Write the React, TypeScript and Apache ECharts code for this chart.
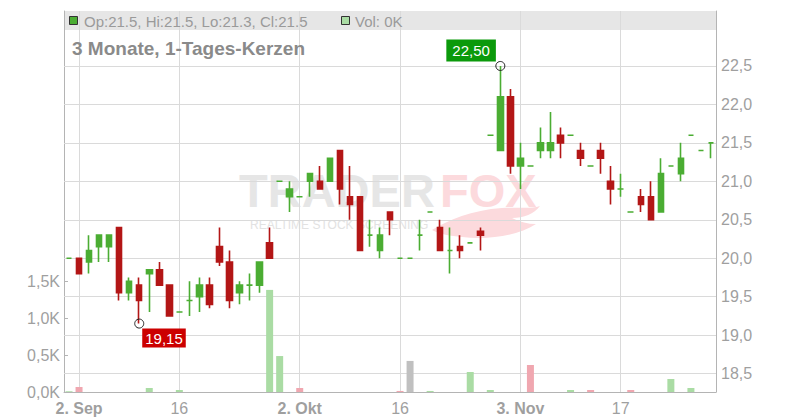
import React, { useEffect, useRef } from 'react';
import * as echarts from 'echarts';

// ---- data ----
const dates = [
  '2025-09-01', '2025-09-02', '2025-09-03', '2025-09-04', '2025-09-05',
  '2025-09-08', '2025-09-09', '2025-09-10', '2025-09-11', '2025-09-12',
  '2025-09-15', '2025-09-16', '2025-09-17', '2025-09-18', '2025-09-19',
  '2025-09-22', '2025-09-23', '2025-09-24', '2025-09-25', '2025-09-26',
  '2025-09-29', '2025-09-30', '2025-10-01', '2025-10-02', '2025-10-03',
  '2025-10-06', '2025-10-07', '2025-10-08', '2025-10-09', '2025-10-10',
  '2025-10-13', '2025-10-14', '2025-10-15', '2025-10-16', '2025-10-17',
  '2025-10-20', '2025-10-21', '2025-10-22', '2025-10-23', '2025-10-24',
  '2025-10-27', '2025-10-28', '2025-10-29', '2025-10-30', '2025-10-31',
  '2025-11-03', '2025-11-04', '2025-11-05', '2025-11-06', '2025-11-07',
  '2025-11-10', '2025-11-11', '2025-11-12', '2025-11-13', '2025-11-14',
  '2025-11-17', '2025-11-18', '2025-11-19', '2025-11-20', '2025-11-21',
  '2025-11-24', '2025-11-25', '2025-11-26', '2025-11-27', '2025-11-28',
];
const opens = [
  20.0, 20.0, 19.95, 20.15, 20.15, 20.4, 19.55, 19.65, 19.8, 19.85,
  19.65, 19.3, 19.45, 19.5, 19.65, 20.15, 19.95, 19.55, 19.65, 19.65,
  20.2, 21.0, 20.8, 20.8, 21.0, 21.0, 21.0, 21.4, 20.8, 20.8,
  20.3, 20.1, 20.6, 20.0, 20.0, 20.3, 20.6, 20.4, 20.1, 20.15,
  20.2, 20.35, 21.6, 21.4, 22.1, 21.2, 21.2, 21.4, 21.4, 21.6,
  21.6, 21.4, 21.2, 21.4, 21.0, 20.9, 20.6, 20.8, 20.8, 20.6,
  21.2, 21.1, 21.6, 21.4, 21.5,
];
const closes = [
  20.0, 19.8, 20.1, 20.3, 20.3, 19.55, 19.7, 19.45, 19.85, 19.65,
  19.25, 19.3, 19.45, 19.65, 19.4, 19.95, 19.45, 19.65, 19.65, 19.95,
  20.0, 21.0, 20.9, 20.8, 21.1, 20.9, 21.3, 20.9, 20.7, 20.1,
  20.3, 20.3, 20.5, 20.0, 20.0, 20.3, 20.6, 20.1, 20.1, 20.1,
  20.2, 20.3, 21.6, 22.1, 21.2, 21.3, 21.2, 21.5, 21.5, 21.5,
  21.6, 21.3, 21.2, 21.3, 20.9, 20.9, 20.6, 20.7, 20.5, 21.1,
  21.2, 21.3, 21.6, 21.4, 21.5,
];
const lows = [
  20.0, 19.8, 19.8, 19.95, 19.95, 19.45, 19.45, 19.15, 19.3, 19.65,
  19.25, 19.3, 19.25, 19.3, 19.35, 19.9, 19.35, 19.4, 19.45, 19.55,
  20.0, 21.0, 20.6, 20.8, 20.8, 20.9, 21.0, 20.7, 20.5, 20.1,
  20.15, 20.0, 20.3, 20.0, 20.0, 20.1, 20.6, 20.1, 19.8, 20.0,
  20.2, 20.1, 21.6, 21.4, 21.1, 20.9, 21.2, 21.3, 21.3, 21.3,
  21.6, 21.2, 21.2, 21.1, 20.7, 20.8, 20.6, 20.6, 20.5, 20.6,
  21.2, 21.0, 21.6, 21.4, 21.3,
];
const highs = [
  20.0, 20.0, 20.3, 20.3, 20.3, 20.4, 19.75, 19.75, 19.85, 19.95,
  19.65, 19.3, 19.7, 19.75, 19.75, 20.4, 20.1, 19.7, 19.8, 19.95,
  20.4, 21.0, 21.0, 20.8, 21.1, 21.2, 21.3, 21.4, 21.2, 20.8,
  20.5, 20.4, 20.6, 20.0, 20.0, 20.5, 20.6, 20.5, 20.4, 20.3,
  20.2, 20.4, 21.6, 22.5, 22.2, 21.5, 21.2, 21.7, 21.9, 21.7,
  21.6, 21.5, 21.2, 21.5, 21.2, 21.1, 20.6, 20.9, 21.0, 21.3,
  21.2, 21.5, 21.6, 21.4, 21.5,
];
const volumes = [
  10, 68, 0, 0, 0, 0, 0, 0, 54, 0,
  0, 27, 0, 0, 0, 0, 0, 0, 0, 0,
  1380, 486, 0, 54, 0, 0, 0, 0, 0, 0,
  0, 0, 0, 14, 420, 0, 14, 0, 0, 0,
  270, 0, 27, 0, 0, 0, 365, 0, 0, 0,
  27, 0, 27, 0, 0, 0, 27, 0, 0, 0,
  176, 0, 54, 0, 0,
];
const priceTicks = [18.5, 19, 19.5, 20, 20.5, 21, 21.5, 22, 22.5];
const volumeTicks = [0, 500, 1000, 1500];
const xTickDates = ['2025-09-02', '2025-09-16', '2025-10-02', '2025-10-16', '2025-11-03', '2025-11-17'];
const xTickLabels = ['2. Sep', '16', '2. Okt', '16', '3. Nov', '17'];
const xTickBold = [true, false, true, false, true, false];

// ---- styles ----
const UP = '#4bad33';
const DOWN = '#b31616';
const VOL_UP = '#aadca4';
const VOL_DOWN = '#f0a7b0';
const VOL_FLAT = '#c0c0c0';
const GRID = '#dadada';
const AXIS = '#b4b4b4';
const LABEL = '#9f9f9f';
const FONT = '"Liberation Sans", Arial, sans-serif';

const TAIL_D =
  'M0,24 C16,14 40,4 70,2 C86,1 100,3 108,0 C102,8 92,12 80,12 C88,16 96,18 104,18 C86,30 56,34 30,31 C18,30 8,28 0,24 Z';

export default function App() {
  const ref = useRef<HTMLDivElement>(null);

  useEffect(() => {
    document.body.style.margin = '0';
    const el = ref.current;
    if (!el) return;
    echarts.graphic.registerShape('foxTail', echarts.graphic.extendPath(TAIL_D, {}));
    const chart = echarts.init(el, null, { renderer: 'svg' });

    const candleData = dates.map((_, i) => [opens[i], closes[i], lows[i], highs[i]]);
    const volData = volumes.map((v, i) => {
      let c = VOL_UP;
      if (i > 0) c = closes[i] > closes[i - 1] ? VOL_UP : closes[i] < closes[i - 1] ? VOL_DOWN : VOL_FLAT;
      return { value: v, itemStyle: { color: c } };
    });
    const maxIdx = highs.indexOf(Math.max(...highs));
    const minIdx = lows.indexOf(Math.min(...lows));
    const last = dates.length - 1;
    const f1 = (v: number) => String(Math.round(v * 10) / 10);
    const legendText = `Op:${f1(opens[last])}, Hi:${f1(highs[last])}, Lo:${f1(lows[last])}, Cl:${f1(closes[last])}`;
    const volText = `Vol: ${Math.round(volumes[last] / 1000)}K`;
    const comma = (v: number, d: number) => v.toFixed(d).replace('.', ',');

    const option: any = {
      animation: false,
      textStyle: { fontFamily: FONT },
      grid: { left: 64, right: 84, top: 11, bottom: 28, containLabel: false },
      xAxis: {
        type: 'category',
        data: dates,
        boundaryGap: true,
        axisLine: { lineStyle: { color: AXIS, width: 1 } },
        axisTick: { show: false },
        splitLine: { show: false },
        axisLabel: {
          interval: (_idx: number, val: string) => xTickDates.indexOf(val) >= 0,
          margin: 8,
          formatter: (val: string) => {
            const k = xTickDates.indexOf(val);
            if (k < 0) return '';
            return xTickBold[k] ? `{b|${xTickLabels[k]}}` : `{n|${xTickLabels[k]}}`;
          },
          rich: {
            b: { fontWeight: 'bold', fontSize: 16, color: LABEL, fontFamily: FONT },
            n: { fontSize: 16, color: LABEL, fontFamily: FONT },
          },
        },
      },
      yAxis: [
        {
          type: 'value',
          position: 'right',
          min: 18.26,
          max: 23.215,
          scale: true,
          splitLine: { show: false },
          axisLine: { show: true, lineStyle: { color: AXIS } },
          axisTick: { show: true, inside: true, length: 5, lineStyle: { color: AXIS }, customValues: priceTicks },
          axisLabel: {
            customValues: priceTicks,
            margin: 5,
            fontSize: 16,
            color: LABEL,
            formatter: (v: number) => (priceTicks.indexOf(Math.round(v * 100) / 100) >= 0 ? comma(v, 1) : ''),
          },
        },
        {
          type: 'value',
          position: 'left',
          min: 0,
          max: 5150,
          splitLine: { show: false },
          axisLine: { show: true, lineStyle: { color: AXIS } },
          axisTick: { show: true, inside: true, length: 4, lineStyle: { color: AXIS }, customValues: volumeTicks },
          axisLabel: {
            customValues: volumeTicks,
            margin: 4,
            fontSize: 16,
            color: LABEL,
            formatter: (v: number) => (volumeTicks.indexOf(v) >= 0 ? comma(v / 1000, 1) + 'K' : ''),
          },
        },
      ],
      series: [
        {
          type: 'line',
          name: 'grid',
          data: [],
          xAxisIndex: 0,
          yAxisIndex: 0,
          z: 1,
          silent: true,
          markLine: {
            z: 1,
            silent: true,
            symbol: ['none', 'none'],
            label: { show: false },
            lineStyle: { color: GRID, width: 1, type: 'solid' },
            emphasis: { disabled: true },
            data: [
              ...xTickDates.map((d) => ({ xAxis: d })),
              ...priceTicks.map((p) => ({ yAxis: p })),
            ],
          },
        },
        {
          type: 'bar',
          name: 'Vol',
          data: volData,
          xAxisIndex: 0,
          yAxisIndex: 1,
          barWidth: 7,
          z: 2,
          silent: true,
        },
        {
          type: 'candlestick',
          name: 'Kurs',
          data: candleData,
          xAxisIndex: 0,
          yAxisIndex: 0,
          barWidth: 6,
          z: 3,
          silent: true,
          itemStyle: {
            color: UP,
            color0: DOWN,
            borderColor: UP,
            borderColor0: DOWN,
            borderColorDoji: UP,
            borderWidth: 1.6,
          },
          markPoint: {
            z: 6,
            silent: true,
            symbol: 'circle',
            symbolSize: 9,
            itemStyle: { color: 'rgba(255,255,255,0)', borderColor: '#222', borderWidth: 1 },
            data: [
              {
                coord: [dates[maxIdx], highs[maxIdx]],
                value: highs[maxIdx],
                label: {
                  show: true,
                  formatter: comma(highs[maxIdx], 2),
                  position: [-49, -21.5],
                  align: 'left',
                  verticalAlign: 'top',
                  backgroundColor: '#0b9a0b',
                  color: '#ffffff',
                  fontSize: 15,
                  lineHeight: 17,
                  padding: [3, 6, 2, 6],
                },
              },
              {
                coord: [dates[minIdx], lows[minIdx]],
                value: lows[minIdx],
                label: {
                  show: true,
                  formatter: comma(lows[minIdx], 2),
                  position: [8, 10],
                  align: 'left',
                  verticalAlign: 'top',
                  backgroundColor: '#cc0000',
                  color: '#ffffff',
                  fontSize: 15,
                  lineHeight: 17,
                  padding: [1, 3, 1, 3],
                },
              },
            ],
          },
        },
      ],
      graphic: [
        { type: 'rect', z: 0, silent: true, shape: { x: 64, y: 11, width: 652, height: 19 }, style: { fill: '#e6e6e6' } },
        // watermark
        {
          type: 'text', z: 0, silent: true, x: 239, y: 190,
          style: { text: 'TRADER', fontSize: 47, fontWeight: 'bold', fontFamily: FONT, fill: '#e6e6e6', verticalAlign: 'middle' },
        },
        {
          type: 'text', z: 0, silent: true, x: 440, y: 190,
          style: { text: 'FOX', fontSize: 47, fontWeight: 'bold', fontFamily: FONT, fill: '#fcdadd', verticalAlign: 'middle' },
        },
        {
          type: 'text', z: 0, silent: true, x: 250, y: 225,
          style: { text: 'REALTIME STOCK SCREENING', fontSize: 12, fontFamily: FONT, fill: '#e2e2e2', verticalAlign: 'middle' },
        },
        { type: 'foxTail', z: 0, silent: true, x: 432, y: 206, style: { fill: '#fcdadd' } },
        // legend row
        { type: 'rect', z: 10, silent: true, shape: { x: 69.5, y: 16.5, width: 8, height: 8 }, style: { fill: UP, stroke: '#333', lineWidth: 1 } },
        {
          type: 'text', z: 10, silent: true, x: 84, y: 21,
          style: { text: legendText, fontSize: 15, fontFamily: FONT, fill: '#9a9a9a', verticalAlign: 'middle' },
        },
        { type: 'rect', z: 10, silent: true, shape: { x: 341.5, y: 16.5, width: 8, height: 8 }, style: { fill: VOL_UP, stroke: '#333', lineWidth: 1 } },
        {
          type: 'text', z: 10, silent: true, x: 355, y: 21,
          style: { text: volText, fontSize: 15, fontFamily: FONT, fill: '#9a9a9a', verticalAlign: 'middle' },
        },
        // title
        {
          type: 'text', z: 10, silent: true, x: 72, y: 48,
          style: { text: '3 Monate, 1-Tages-Kerzen', fontSize: 19, fontWeight: 'bold', fontFamily: FONT, fill: '#8a8a8a', verticalAlign: 'middle' },
        },
      ],
    };

    chart.setOption(option);
    return () => chart.dispose();
  }, []);

  return <div ref={ref} style={{ width: 800, height: 420 }} />;
}
